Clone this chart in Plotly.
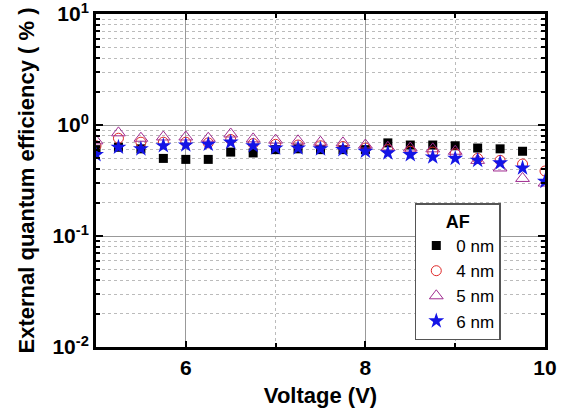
import plotly.graph_objects as go

voltage = [5.0, 5.25, 5.5, 5.75, 6.0, 6.25, 6.5, 6.75, 7.0, 7.25, 7.5, 7.75,
           8.0, 8.25, 8.5, 8.75, 9.0, 9.25, 9.5, 9.75, 10.0]

eqe_0nm = [0.60, 0.63, 0.61, 0.50, 0.49, 0.49, 0.57, 0.56, 0.60, 0.61, 0.60, 0.60,
           0.60, 0.69, 0.66, 0.66, 0.65, 0.62, 0.61, 0.58, None]
eqe_4nm = [0.65, 0.76, 0.70, 0.70, 0.70, 0.69, 0.74, 0.68, 0.67, 0.66, 0.65, 0.64,
           0.62, 0.60, 0.58, 0.57, 0.55, 0.50, 0.48, 0.445, 0.385]
eqe_5nm = [0.72, 0.85, 0.76, 0.78, 0.78, 0.76, 0.83, 0.75, 0.73, 0.72, 0.70, 0.69,
           0.66, 0.63, 0.62, 0.61, 0.58, 0.48, 0.41, 0.33, 0.30]
eqe_6nm = [0.54, 0.63, 0.61, 0.65, 0.66, 0.67, 0.70, 0.65, 0.62, 0.62, 0.61, 0.60,
           0.58, 0.56, 0.54, 0.515, 0.50, 0.48, 0.455, 0.41, 0.31]

names = ["0 nm", "4 nm", "5 nm", "6 nm"]
y_ticks = [0.01, 0.1, 1, 10]
y_tick_text = ["10<sup>-2</sup>", "10<sup>-1</sup>", "10<sup>0</sup>", "10<sup>1</sup>"]
x_ticks = [6, 8, 10]

fig = go.Figure()
styles = [
    (eqe_0nm, dict(symbol="square", size=9, color="black")),
    (eqe_4nm, dict(symbol="circle-open", size=10, color="#e02828", line=dict(width=1))),
    (eqe_5nm, dict(symbol="triangle-up-open", size=12, color="#a02c90", line=dict(width=1))),
    (eqe_6nm, dict(symbol="star", size=12, color="#1414e6", line=dict(width=0))),
]
for (ys, mk), nm in zip(styles, names):
    fig.add_trace(go.Scatter(x=voltage, y=ys, mode="markers", name=nm, marker=mk))

FAM = "Liberation Sans, Arial, sans-serif"
tickfont = dict(size=21, family=FAM, color="black", weight="bold")

fig.update_layout(
    width=566, height=408,
    margin=dict(l=96, r=21, t=14, b=61),
    paper_bgcolor="white", plot_bgcolor="white",
    font=dict(family=FAM, color="black", size=18),
    legend=dict(
        title=dict(text="<b>AF</b>", side="top center", font=dict(size=18)),
        x=0.71, y=0.432, xanchor="left", yanchor="top",
        bordercolor="#555", borderwidth=1.5, bgcolor="white",
        font=dict(size=17), itemwidth=30, tracegroupgap=0,
    ),
    xaxis=dict(
        range=[5, 10], tickvals=x_ticks, automargin=False, ticklabeloverflow="allow",
        ticks="inside", ticklen=6, tickwidth=1.5, tickcolor="black",
        showline=True, linecolor="black", linewidth=3, mirror="ticks",
        showgrid=True, gridcolor="#999", gridwidth=1,
        zeroline=False, tickfont=tickfont,
        title=dict(text="<b>Voltage (V)</b>", font=dict(size=22, family=FAM), standoff=10),
        minor=dict(dtick=1, ticks="inside", ticklen=4, tickcolor="black",
                   showgrid=True, gridcolor="#bbb", griddash="dot", gridwidth=1),
    ),
    yaxis=dict(
        type="log", range=[-2, 1], tickvals=y_ticks, ticktext=y_tick_text,
        automargin=False, ticklabeloverflow="allow",
        ticks="inside", ticklen=7, tickwidth=1.5, tickcolor="black",
        showline=True, linecolor="black", linewidth=3, mirror="ticks",
        showgrid=True, gridcolor="#999", gridwidth=1,
        zeroline=False, tickfont=tickfont,
        title=dict(text="<b>External quantum efficiency ( % )</b>", font=dict(size=22, family=FAM), standoff=12),
        minor=dict(dtick="D1", ticks="inside", ticklen=4, tickcolor="black",
                   showgrid=True, gridcolor="#bbb", griddash="dot", gridwidth=1),
    ),
)

fig.write_html("out.html", config={"displayModeBar": False},
               post_script="document.body.style.margin='0px';")
